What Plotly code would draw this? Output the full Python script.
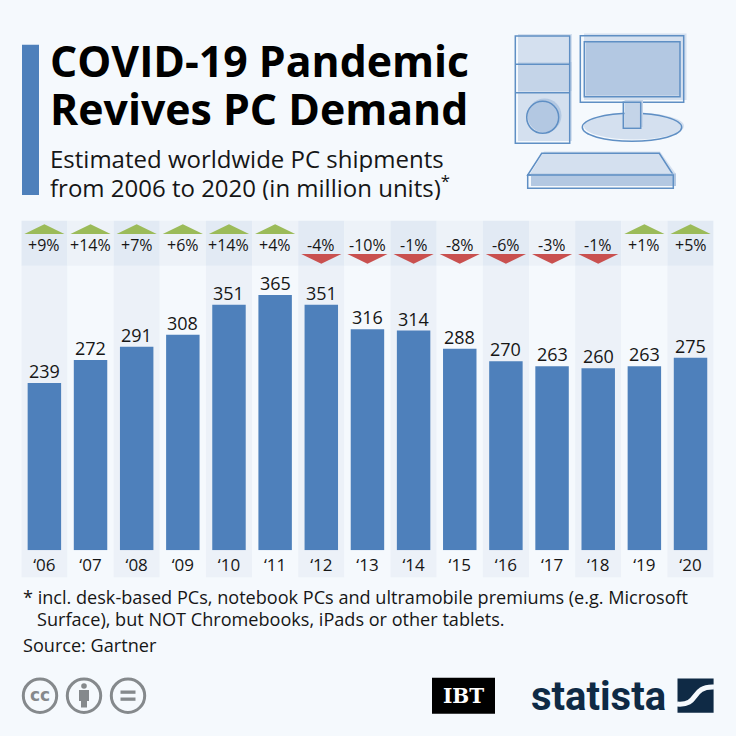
import plotly.graph_objects as go

# Data
years = ["‘06", "‘07", "‘08", "‘09", "‘10", "‘11", "‘12", "‘13", "‘14", "‘15", "‘16", "‘17", "‘18", "‘19", "‘20"]
shipments = [239, 272, 291, 308, 351, 365, 351, 316, 314, 288, 270, 263, 260, 263, 275]
changes = [9, 14, 7, 6, 14, 4, -4, -10, -1, -8, -6, -3, -1, 1, 5]

W = 736
BG = "#f5f9fd"
BLUE = "#4e80bb"
INK = "#161616"
FONT = "Open Sans"
LIGHT = "#d4e0ef"
MID = "#b3c8e2"
LINE = "#5f8fc4"
NAVY = "#0f2a45"
GREY = "#85898c"


# page pixels to paper coords
def px(x):
    return x / W


def py(y):
    return 1 - y / W


fig = go.Figure()
fig.add_trace(go.Bar(x=list(range(len(years))), y=shipments, width=0.725, marker_color=BLUE,
                     marker_line_width=0))

shapes = []
annots = []


def rect(x0, y0, x1, y1, fill, line=None, lw=1.5, layer="above"):
    shapes.append(dict(type="rect", xref="paper", yref="paper", x0=px(x0), x1=px(x1), y0=py(y0), y1=py(y1),
                       fillcolor=fill, line=dict(color=line or fill, width=lw if line else 0), layer=layer))


def circle(cx, cy, rx, ry, fill, line=None, lw=1.5):
    shapes.append(dict(type="circle", xref="paper", yref="paper", x0=px(cx - rx), x1=px(cx + rx),
                       y0=py(cy + ry), y1=py(cy - ry), fillcolor=fill,
                       line=dict(color=line or fill, width=lw if line else 0), layer="above"))


def poly(points, fill, line=None, lw=1.5):
    d = "M " + " L ".join(f"{px(x):.5f},{py(y):.5f}" for x, y in points) + " Z"
    shapes.append(dict(type="path", xref="paper", yref="paper", path=d, fillcolor=fill,
                       line=dict(color=line or fill, width=lw if line else 0), layer="above"))


def label(x, y, text, size, color=INK, bold=False, anchor="left", family=FONT, height=None):
    annots.append(dict(xref="paper", yref="paper", x=px(x), y=py(y), text=f"<b>{text}</b>" if bold else text,
                       showarrow=False, xanchor=anchor, yanchor="middle", align="left", height=height,
                       font=dict(family=family, size=size, color=color)))


# alternating column bands and header strip
for i, ch in enumerate(changes):
    odd = i % 2 == 1
    shapes.append(dict(type="rect", xref="x", yref="paper", x0=i - 0.5, x1=i + 0.5, y0=py(577.3), y1=py(265.7),
                       fillcolor=BG if odd else "#ecf1f8", line_width=0, layer="below"))
    shapes.append(dict(type="rect", xref="x", yref="paper", x0=i - 0.5, x1=i + 0.5, y0=py(265.7), y1=py(220.7),
                       fillcolor="#edf2f8" if odd else "#e2eaf4", line_width=0, layer="below"))
    if ch > 0:
        ys = (234, 234, 224.3)
        col = "#9bbb59"
    else:
        ys = (254, 254, 263.7)
        col = "#c9504f"
    path = f"M {i - 0.435},{py(ys[0]):.5f} L {i + 0.435},{py(ys[1]):.5f} L {i},{py(ys[2]):.5f} Z"
    shapes.append(dict(type="path", xref="x", yref="paper", path=path, fillcolor=col, line_width=0, layer="below"))
    annots.append(dict(xref="x", yref="paper", x=i, y=py(245), text=f"{ch:+d}%", showarrow=False,
                       yanchor="middle", font=dict(family=FONT, size=16, color=INK)))
    annots.append(dict(xref="x", yref="y", x=i, y=shipments[i], text=str(shipments[i]), showarrow=False,
                       yanchor="middle", yshift=12, font=dict(family=FONT, size=18, color=INK)))

# header
rect(22, 44.7, 39, 195, BLUE)
label(48, 60.5, "COVID-19 Pandemic", 42.8, "#000000", bold=True, height=46)
label(48, 108, "Revives PC Demand", 42.8, "#000000", bold=True, height=46)
label(48, 159, "Estimated worldwide PC shipments", 24, height=27)
label(48, 186.5, "from 2006 to 2020 (in million units)<sup>*</sup>", 24, height=27)

# computer icon: tower
rect(518, 34, 572, 141, LIGHT)
rect(518, 62, 572, 91, "#c4d4e8")
rect(515.3, 36, 569.7, 143.3, "rgba(0,0,0,0)", LINE)
shapes.append(dict(type="line", xref="paper", yref="paper", x0=px(515.3), x1=px(569.7), y0=py(64.3), y1=py(64.3),
                   line=dict(color=LINE, width=1.5)))
shapes.append(dict(type="line", xref="paper", yref="paper", x0=px(515.3), x1=px(569.7), y0=py(92.7), y1=py(92.7),
                   line=dict(color=LINE, width=1.5)))
circle(544.5, 115.5, 17, 17, MID)
circle(542.7, 117.3, 16, 16, "rgba(0,0,0,0)", LINE)
# monitor
rect(584, 33.5, 686.5, 100, LIGHT)
rect(580.3, 35.7, 683.7, 102.3, "rgba(0,0,0,0)", LINE)
rect(586, 41, 680, 95.5, MID)
rect(584.3, 41.7, 680, 96.7, "rgba(0,0,0,0)", LINE)
# stand
circle(634, 126, 50, 13.5, LIGHT)
circle(632, 127.3, 49.7, 14, "rgba(0,0,0,0)", LINE)
rect(624.5, 100, 643, 127, "#c4d4e8")
rect(623.3, 102.3, 640.7, 128.3, "rgba(0,0,0,0)", LINE)
# keyboard
poly([(544, 151.5), (660, 151.5), (676, 174), (530, 174)], LIGHT)
poly([(541.7, 153.3), (659.3, 153.3), (673.3, 175), (527.7, 175)], "rgba(0,0,0,0)", LINE)
rect(531, 173.5, 676, 186, MID)
rect(527.7, 175, 673.3, 188.3, "rgba(0,0,0,0)", LINE)

# footnotes
label(21, 597, "* incl. desk-based PCs, notebook PCs and ultramobile premiums (e.g. Microsoft", 18.1)
label(35, 619, "Surface), but NOT Chromebooks, iPads or other tablets.", 18.1)
label(21, 645, "Source: Gartner", 18.1)

# licence icons
for cx in (40, 84, 128):
    circle(cx, 695.7, 16.7, 16.7, "rgba(0,0,0,0)", GREY, 3)
label(40, 695, "cc", 17, GREY, bold=True, anchor="center", family="DejaVu Sans")
circle(84, 686, 2.8, 2.8, GREY)
rect(79, 690, 89, 701, GREY)
rect(81, 700, 87, 707.5, GREY)
rect(120.5, 690.5, 135.5, 693.8, GREY)
rect(120.5, 697.5, 135.5, 700.8, GREY)

# logos
rect(432, 677.7, 495, 713.7, "#000000")
label(463.5, 695.5, "IBT", 20, "#ffffff", bold=True, anchor="center", family="DejaVu Serif")
label(598.5, 696, "statista", 40, NAVY, bold=True, anchor="center", family="Roboto")
rect(677.5, 678.5, 713.6, 712.7, NAVY)
shapes.append(dict(type="path", xref="paper", yref="paper",
                   path=f"M {px(677):.5f},{py(704):.5f} C {px(700):.5f},{py(706):.5f} {px(690):.5f},{py(686):.5f} {px(714):.5f},{py(687):.5f}",
                   line=dict(color=BG, width=5), layer="above"))

fig.update_layout(
    width=W, height=W, margin=dict(l=0, r=0, t=0, b=0), showlegend=False,
    paper_bgcolor=BG, plot_bgcolor="rgba(0,0,0,0)", shapes=shapes, annotations=annots,
    xaxis=dict(domain=[px(21.3), px(713.6)], range=[-0.5, 14.5], tickmode="array",
               tickvals=list(range(len(years))), ticktext=years, showgrid=False, zeroline=False,
               showline=False, ticks="", ticklabelstandoff=3,
               tickfont=dict(family=FONT, size=17, color=INK)),
    yaxis=dict(domain=[py(550.3), py(220.7)], range=[0, 471], visible=False),
)

fig.write_html("out.html", config=dict(displayModeBar=False), post_script="document.body.style.margin='0';")
